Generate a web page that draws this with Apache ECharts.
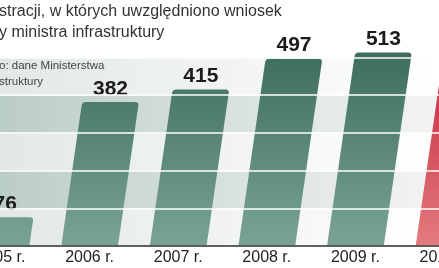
<!DOCTYPE html>
<html><head><meta charset="utf-8">
<script src="https://cdn.jsdelivr.net/npm/echarts@6/dist/echarts.min.js"></script>
<style>html,body{margin:0;padding:0;background:#fff}#c{width:439px;height:268px}</style>
</head><body><div id="c"></div>
<script>
const categories = ['2005 r.', '2006 r.', '2007 r.', '2008 r.', '2009 r.', '2010 r.'];
const values = [76, 382, 415, 497, 513, 600];
const yTicks = [0, 100, 200, 300, 400, 500];
const titleLines = ['stracji, w których uwzględniono wniosek', 'y ministra infrastruktury'];
const sourceLines = ['o: dane Ministerstwa', 'struktury'];

const chart = echarts.init(document.getElementById('c'), null, {renderer: 'canvas'});

const bandData = [];
for (let k = 0; k < yTicks.length - 1; k++) bandData.push([0, yTicks[k], yTicks[k + 1], k]);

function renderBand(params, api) {
  const lo = api.value(1), hi = api.value(2), k = api.value(3);
  const yb = api.coord([0, lo])[1], yt = api.coord([0, hi])[1];
  const cs = params.coordSys;
  const stops = k % 2 === 0
    ? [{offset: 0, color: '#e2e8e6'}, {offset: 1, color: '#ffffff'}]
    : [{offset: 0, color: '#bbcdc7'}, {offset: 1, color: '#f3f4f4'}];
  return {
    type: 'rect',
    shape: {x: cs.x, y: yt, width: cs.width, height: yb - yt},
    style: {fill: new echarts.graphic.LinearGradient(0, 0, 439, 0, stops, true)}
  };
}

function renderBar(params, api) {
  const i = api.value(0), v = api.value(1);
  const base = api.coord([i, 0]);
  const top = api.coord([i, v]);
  const top500 = api.coord([i, 500])[1];
  const bw = api.size([1, 0])[0] * 0.64;
  const h = base[1] - top[1];
  const s = 0.145;
  const sh = h * s;
  const r = 3.5;
  const x0 = base[0] - bw / 2, x1 = base[0] + bw / 2, by = base[1];
  const tx0 = x0 + sh, tx1 = x1 + sh, ty = top[1];
  const path = 'M' + x0 + ' ' + by + ' L' + x1 + ' ' + by +
    ' L' + (tx1 - r * s) + ' ' + (ty + r) +
    ' Q' + tx1 + ' ' + ty + ' ' + (tx1 - r) + ' ' + ty +
    ' L' + (tx0 + r) + ' ' + ty +
    ' Q' + tx0 + ' ' + ty + ' ' + (tx0 - r * s) + ' ' + (ty + r) + ' Z';
  const red = i === categories.length - 1;
  const stops = red
    ? [{offset: 0, color: '#c3243a'}, {offset: 1, color: '#e37b7f'}]
    : [{offset: 0, color: '#3c6c5d'}, {offset: 1, color: '#7aa396'}];
  return {
    type: 'group',
    children: [
      {type: 'path', shape: {pathData: path},
       style: {fill: new echarts.graphic.LinearGradient(0, top500 - 10, 0, by, stops, true)}},
      {type: 'text', style: {text: String(v), x: (tx0 + tx1) / 2, y: ty - 13, align: 'center', verticalAlign: 'middle',
        font: 'bold 21px "Liberation Sans Narrow", "Liberation Sans", sans-serif', fill: '#1b1b1b'}}
    ]
  };
}

const option = {
  animation: false,
  grid: {left: -43.3, right: -49.3, top: 57.5, bottom: 22, outerBoundsMode: 'none', containLabel: false},
  xAxis: {
    type: 'category', data: categories,
    axisTick: {show: false},
    axisLine: {lineStyle: {color: '#2b2b2b', width: 1.5}},
    axisLabel: {color: '#222', fontSize: 16, fontFamily: '"Liberation Sans Narrow", "Liberation Sans", sans-serif', margin: 4, hideOverlap: false},
    z: 12
  },
  yAxis: {
    type: 'value', min: 0, max: 500, interval: 100,
    axisLabel: {show: false}, axisLine: {show: false}, axisTick: {show: false},
    splitLine: {lineStyle: {color: 'rgba(255,255,255,0.75)', width: 2}},
    z: 10
  },
  graphic: [
    {type: 'text', x: -1, y: 12, style: {text: titleLines[0], verticalAlign: 'middle', font: '16px "Liberation Sans", sans-serif', fill: '#333'}},
    {type: 'text', x: -1, y: 33, style: {text: titleLines[1], verticalAlign: 'middle', font: '16px "Liberation Sans", sans-serif', fill: '#333'}},
    {type: 'text', x: -1, y: 66, z: 20, style: {text: sourceLines[0], verticalAlign: 'middle', font: '11.5px "Liberation Sans", sans-serif', fill: '#444'}},
    {type: 'text', x: -1, y: 82, z: 20, style: {text: sourceLines[1], verticalAlign: 'middle', font: '11.5px "Liberation Sans", sans-serif', fill: '#444'}}
  ],
  series: [
    {type: 'custom', renderItem: renderBand, data: bandData, encode: {x: 0, y: [1, 2]}, z: 0, silent: true},
    {type: 'custom', renderItem: renderBar, data: values.map((v, i) => [i, v]), encode: {x: 0, y: 1}, z: 2, clip: false}
  ]
};
chart.setOption(option);
</script></body></html>
